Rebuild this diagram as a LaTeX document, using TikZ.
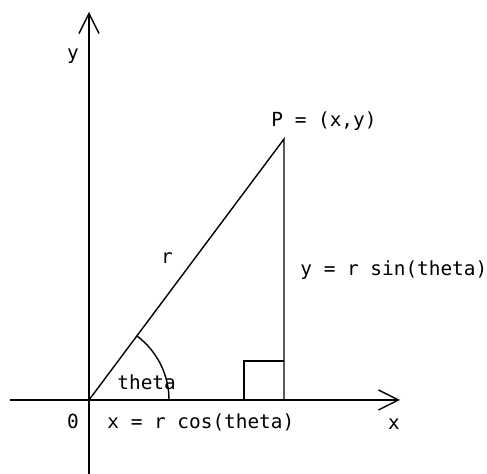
\documentclass[tikz,border=0pt]{standalone}
\usepackage{fontspec}
\setmonofont{DejaVu Sans Mono}
\usetikzlibrary{arrows.meta, positioning, calc}
\tikzset{
  axisline/.style={-{Straight Barb[length=10pt, width=10pt]}, line width=0.7pt},
  legline/.style={line width=0.7pt},
  lbl/.style={font=\ttfamily\fontsize{9.7}{11}\selectfont, inner sep=0pt},
}
\begin{document}
\begin{tikzpicture}[x=0.5pt, y=0.5pt]
  \useasboundingbox (0,0) rectangle (487,474);
  % axes
  \coordinate (O) at (89,74);
  \coordinate (ybot) at (89,0);
  \coordinate (ytop) at (89,462);
  \coordinate (xleft) at (10,74);
  \coordinate (xright) at (400,74);
  \draw[axisline] (ybot) -- (ytop);
  \draw[axisline] (xleft) -- (xright);

  % triangle
  \coordinate (P) at (284,335);
  \coordinate (F) at (284,74);
  \coordinate (sqa) at ($(F)+(-40,0)$);
  \coordinate (sqb) at ($(F)+(0,39)$);
  \draw[legline] (O) -- (P) -- (F);
  \draw[legline] (sqa) |- (sqb);
  \draw[legline] ($(O)+(80,0)$) arc[start angle=0, end angle=53.2, radius=80];

  % labels
  \node[lbl] (ylab) at (73,418) {y};
  \node[lbl] (xlab) at (394,50) {x};
  \node[lbl] (olab) at (73,53) {0};
  \node[lbl] (rlab) at (167,216) {r};
  \node[lbl, anchor=base west] (plab) at (271,347) {P = (x,y)};
  \node[lbl, anchor=base west] (sinlab) at (300,198) {y = r sin(theta)};
  \node[lbl, anchor=base west] (coslab) at (107,45) {x = r cos(theta)};
  \node[lbl, anchor=base west] (thlab) at (117,84) {theta};
\end{tikzpicture}
\end{document}
